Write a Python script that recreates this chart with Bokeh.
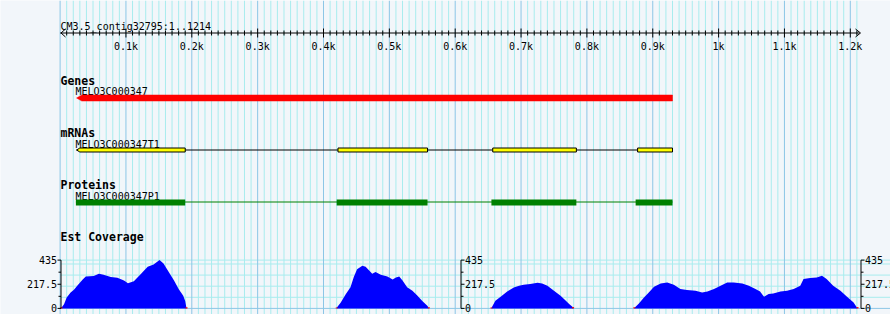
from bokeh.plotting import figure
from bokeh.models import Range1d
from bokeh.core.properties import value
from bokeh.embed import file_html
from bokeh.resources import INLINE

# ---------------- data ----------------
contig_label = "CM3.5_contig32795:1..1214"
contig_len = 1214
ruler_tick_pos = [100, 200, 300, 400, 500, 600, 700, 800, 900, 1000, 1100, 1200]
ruler_tick_labels = ["0.1k", "0.2k", "0.3k", "0.4k", "0.5k", "0.6k",
                     "0.7k", "0.8k", "0.9k", "1k", "1.1k", "1.2k"]

track_titles = ["Genes", "mRNAs", "Proteins", "Est Coverage"]

gene_name = "MELO3C000347"
gene_start, gene_end = 25, 930

mrna_name = "MELO3C000347T1"
mrna_exon_starts = [25, 422, 657, 877]
mrna_exon_ends = [190, 558, 784, 930]

protein_name = "MELO3C000347P1"
cds_starts = [24, 420, 655, 874]
cds_ends = [190, 558, 784, 930]

cov_axis_values = [0, 217.5, 435]
cov_axis_labels = ["0", "217.5", "435"]
cov_minor_ticks = [108.75, 326.25]
cov_grid_values = [100, 200, 300, 400, 435]

cov1_pos = [2, 6, 10, 16, 21, 27, 34, 39, 51, 59, 66, 77, 87, 97, 103, 112, 123, 133,
            142, 151, 157, 165, 173, 180, 187, 190, 192]
cov1_val = [6, 37, 98, 144, 168, 211, 257, 288, 291, 312, 303, 282, 276, 251, 227, 245,
            312, 374, 395, 435, 404, 328, 251, 175, 113, 67, 0]

cov2_pos = [420, 426, 434, 441, 446, 451, 459, 464, 469, 474, 479, 487, 497, 505, 510,
            515, 520, 527, 535, 542, 550, 558, 560]
cov2_val = [5, 52, 129, 190, 282, 352, 383, 374, 343, 312, 328, 303, 288, 260, 279,
            288, 251, 190, 159, 119, 67, 21, 0]

cov3_pos = [655, 661, 669, 679, 689, 697, 704, 714, 725, 732, 740, 750, 760, 768, 773,
            778, 780]
cov3_val = [3, 69, 105, 153, 189, 204, 213, 219, 231, 225, 204, 159, 114, 69, 39, 15, 0]

cov4_pos = [872, 879, 886, 894, 902, 912, 922, 932, 942, 952, 965, 975, 983, 993, 1003,
            1013, 1023, 1036, 1046, 1056, 1063, 1069, 1076, 1083, 1094, 1104, 1114, 1124,
            1129, 1139, 1149, 1157, 1164, 1174, 1185, 1195, 1205, 1211]
cov4_val = [3, 45, 93, 144, 195, 225, 234, 213, 174, 165, 159, 144, 153, 174, 204, 234,
            234, 225, 204, 174, 153, 105, 129, 135, 153, 159, 174, 204, 264, 273, 279,
            294, 264, 204, 159, 105, 54, 0]

low_pos = [2, 192, 420, 560, 655, 779, 872, 1211]
low_val = [10, 10, 8, 10, 8, 12, 10, 12]

# ---------------- styles ----------------
BG = "#F2F6FA"
GRID_MINOR = "#A8ECEE"
GRID_MAJOR = "#8CC6E6"
MONO = value("DejaVu Sans Mono")
W, H = 890, 314
PX0, SCALE = 59.6, 0.6585  # pixel of bp 0, pixels per bp

p = figure(width=W, height=H, output_backend="svg", toolbar_location=None,
           x_range=Range1d(-PX0 / SCALE, (W - PX0) / SCALE),
           y_range=Range1d(H, 0),
           x_axis_type=None, y_axis_type=None, min_border=0)
p.extra_x_ranges = {"px": Range1d(0, W)}
cov_px0, cov_px435 = 307.9, 259.6
R = 435 * H / (cov_px0 - cov_px435)
cstart = -(H - cov_px0) / H * R
p.extra_y_ranges = {"cov": Range1d(cstart, cstart + R)}
p.background_fill_color = BG
p.border_fill_color = BG
p.outline_line_color = None
p.xgrid.visible = False
p.ygrid.visible = False

# vertical grid
minor_x = [i * 10 for i in range(1, contig_len // 10 + 1) if i % 10 != 0]
major_x = [i * 100 for i in range(0, contig_len // 100 + 1)]
p.segment(x0=minor_x, y0=0, x1=minor_x, y1=H, line_color=GRID_MINOR, line_width=1)
# horizontal grid in coverage track
p.segment(x0=60, y0=cov_grid_values, x1=W, y1=cov_grid_values, line_color=GRID_MINOR,
          line_width=1, x_range_name="px", y_range_name="cov")
p.segment(x0=major_x, y0=0, x1=major_x, y1=H, line_color=GRID_MAJOR, line_width=1)
p.segment(x0=60, y0=[0], x1=W, y1=[0], line_color=GRID_MAJOR,
          line_width=1, x_range_name="px", y_range_name="cov")

# ---------------- ruler ----------------
p.text(x=[60], y=[25.5], text=[contig_label], x_range_name="px", text_font=MONO,
       text_font_size="10px", text_color="black", text_baseline="alphabetic")
p.segment(x0=[0], y0=[32.5], x1=[contig_len], y1=[32.5], line_color="black", line_width=1)
tick_minor = [i * 10 for i in range(1, contig_len // 10 + 1) if i % 10 != 0]
p.segment(x0=tick_minor, y0=30, x1=tick_minor, y1=35, line_color="black", line_width=1)
p.segment(x0=ruler_tick_pos, y0=28, x1=ruler_tick_pos, y1=37, line_color="black", line_width=1)
# arrowheads
p.multi_line(xs=[[65, 60.5, 65], [855, 860, 855]], ys=[[28.5, 32.5, 36.5], [28.5, 32.5, 36.5]],
             x_range_name="px", line_color="black", line_width=1)
p.text(x=ruler_tick_pos, y=46, text=ruler_tick_labels, text_font=MONO, text_font_size="10px",
       text_color="black", text_align="center", text_baseline="alphabetic")

# ---------------- track titles ----------------
p.text(x=60, y=[80, 132.5, 184, 236], text=track_titles, x_range_name="px", text_font=MONO,
       text_font_size="11.5px", text_font_style="bold", text_color="black",
       text_baseline="alphabetic")
p.text(x=75, y=[91.3, 144, 196], text=[gene_name, mrna_name, protein_name], x_range_name="px",
       text_font=MONO, text_font_size="10px", text_color="black", text_baseline="alphabetic")

# ---------------- gene (minus strand arrow) ----------------
ah = 8
p.patch(x=[gene_start, gene_start + ah, gene_end, gene_end, gene_start + ah],
        y=[97.5, 94.5, 94.5, 100.5, 100.5], fill_color="#FF0000", line_color="#FF0000",
        line_width=0.5)

# ---------------- mRNA ----------------
p.segment(x0=[mrna_exon_starts[0]], y0=[149.5], x1=[mrna_exon_ends[-1]], y1=[149.5],
          line_color="black", line_width=1)
first_s, first_e = mrna_exon_starts[0], mrna_exon_ends[0]
p.patch(x=[first_s, first_s + 5, first_e, first_e, first_s + 5],
        y=[149.5, 147.5, 147.5, 151.5, 151.5], fill_color="#FFFF00", line_color="black",
        line_width=1)
p.quad(left=mrna_exon_starts[1:], right=mrna_exon_ends[1:], top=147.5, bottom=151.5,
       fill_color="#FFFF00", line_color="black", line_width=1)

# ---------------- protein ----------------
p.segment(x0=[cds_starts[0]], y0=[201.5], x1=[cds_ends[-1]], y1=[201.5],
          line_color="#008000", line_width=1)
p.quad(left=cds_starts, right=cds_ends, top=199, bottom=205, fill_color="#008000",
       line_color=None)

# ---------------- coverage ----------------
for xs, ys in [(cov1_pos, cov1_val), (cov2_pos, cov2_val), (cov3_pos, cov3_val),
               (cov4_pos, cov4_val)]:
    p.varea(x=xs, y1=[0] * len(xs), y2=ys, fill_color="#0000FF", y_range_name="cov")
p.vbar(x=low_pos, top=low_val, bottom=0, width=3, fill_color="#FF0000", line_color=None,
       y_range_name="cov")

# coverage axes
for ax_x, side in [(60.5, -1), (460.5, 1), (860.5, 1)]:
    p.segment(x0=[ax_x], y0=[0], x1=[ax_x], y1=[435], line_color="black", line_width=1,
              x_range_name="px", y_range_name="cov")
    p.segment(x0=ax_x, y0=cov_axis_values, x1=ax_x + side * 3.5, y1=cov_axis_values,
              line_color="black", line_width=1, x_range_name="px", y_range_name="cov")
    p.segment(x0=ax_x, y0=cov_minor_ticks, x1=ax_x + side * 2.5, y1=cov_minor_ticks,
              line_color="black", line_width=1, x_range_name="px", y_range_name="cov")
    p.text(x=ax_x + side * 4, y=cov_axis_values, text=cov_axis_labels, x_range_name="px",
           y_range_name="cov", text_font=MONO, text_font_size="10px", text_color="black",
           text_align="right" if side < 0 else "left", text_baseline="middle")

open("out.html", "w").write(file_html(p, INLINE))
